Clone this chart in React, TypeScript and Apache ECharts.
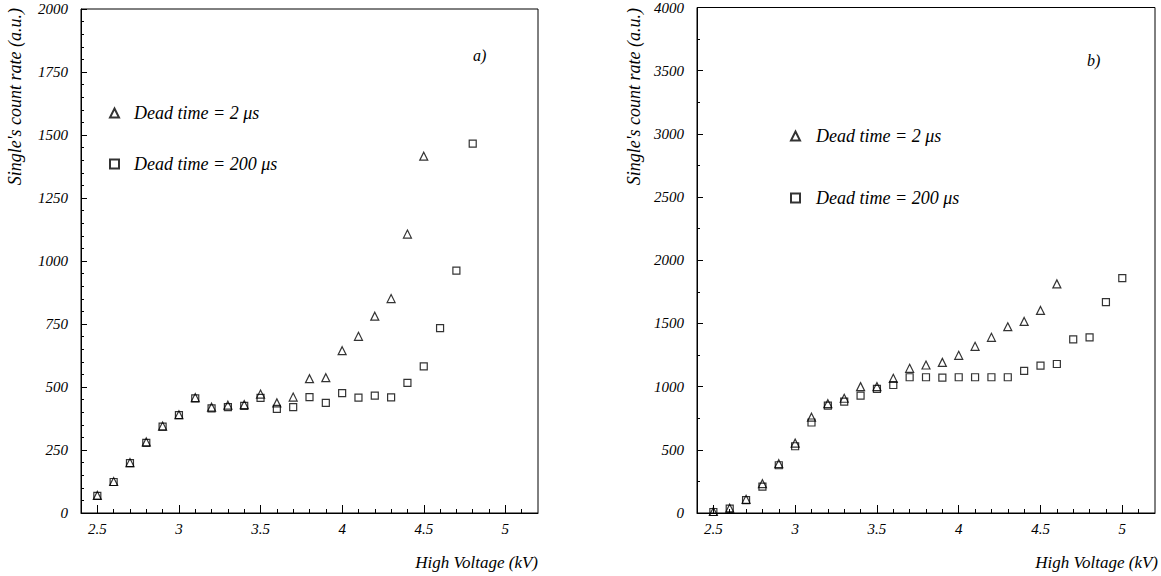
import React, { useEffect, useRef } from "react";
import * as echarts from "echarts";

// ---- data ----
const nameTri = "Dead time = 2 \u03bcs";
const nameSq = "Dead time = 200 \u03bcs";

// panel a)
const voltA2 = [2.5, 2.6, 2.7, 2.8, 2.9, 3.0, 3.1, 3.2, 3.3, 3.4, 3.5, 3.6, 3.7, 3.8, 3.9, 4.0, 4.1, 4.2, 4.3, 4.4, 4.5];
const rateA2 = [70, 125, 200, 282, 345, 390, 458, 420, 428, 430, 472, 437, 460, 533, 537, 644, 701, 781, 851, 1107, 1416];
const voltA200 = [2.5, 2.6, 2.7, 2.8, 2.9, 3.0, 3.1, 3.2, 3.3, 3.4, 3.5, 3.6, 3.7, 3.8, 3.9, 4.0, 4.1, 4.2, 4.3, 4.4, 4.5, 4.6, 4.7, 4.8];
const rateA200 = [68, 123, 198, 278, 343, 388, 455, 415, 420, 425, 457, 413, 420, 460, 437, 476, 458, 466, 459, 516, 582, 734, 962, 1466];

// panel b)
const voltB2 = [2.5, 2.6, 2.7, 2.8, 2.9, 3.0, 3.1, 3.2, 3.3, 3.4, 3.5, 3.6, 3.7, 3.8, 3.9, 4.0, 4.1, 4.2, 4.3, 4.4, 4.5, 4.6];
const rateB2 = [12, 38, 108, 232, 390, 553, 758, 865, 908, 1000, 1000, 1066, 1145, 1171, 1192, 1248, 1319, 1390, 1474, 1516, 1603, 1813];
const voltB200 = [2.5, 2.6, 2.7, 2.8, 2.9, 3.0, 3.1, 3.2, 3.3, 3.4, 3.5, 3.6, 3.7, 3.8, 3.9, 4.0, 4.1, 4.2, 4.3, 4.4, 4.5, 4.6, 4.7, 4.8, 4.9, 5.0];
const rateB200 = [8, 35, 102, 208, 378, 528, 716, 850, 882, 929, 982, 1013, 1074, 1074, 1071, 1074, 1074, 1074, 1074, 1124, 1166, 1179, 1374, 1390, 1669, 1858];

// ticks
const xMajorTicks = [2.5, 3, 3.5, 4, 4.5, 5];
const xMinorTicks = [2.5, 2.6, 2.7, 2.8, 2.9, 3.0, 3.1, 3.2, 3.3, 3.4, 3.5, 3.6, 3.7, 3.8, 3.9, 4.0, 4.1, 4.2, 4.3, 4.4, 4.5, 4.6, 4.7, 4.8, 4.9, 5.0, 5.1];
const xRange = [2.4, 5.2];
const yRangeA = [0, 2000];
const yStepA = 250;
const yRangeB = [0, 4000];
const yStepB = 500;

const xTitle = "High Voltage (kV)";
const yTitle = "Single's count rate (a.u.)";
const panelTags = ["a)", "b)"];

const FONT = "'Liberation Serif', 'Times New Roman', serif";
const txt = { fontFamily: FONT, fontStyle: "italic" as const, color: "#000" };

function pairs(xs: number[], ys: number[]) {
  return xs.map((x, i) => [x, ys[i]]);
}

function xAxesFor(gridIndex: number) {
  return [
    {
      gridIndex,
      type: "value",
      position: "bottom",
      min: xRange[0],
      max: xRange[1],
      axisLine: { show: true, onZero: false, lineStyle: { color: "#000", width: 1 } },
      axisTick: { show: true, inside: true, length: 4, customValues: xMinorTicks, lineStyle: { color: "#000" } },
      axisLabel: { customValues: xMajorTicks, ...txt, fontSize: 15, margin: 8, formatter: (v: number) => String(v) },
      splitLine: { show: false },
    },
    {
      gridIndex,
      type: "value",
      position: "bottom",
      min: xRange[0],
      max: xRange[1],
      axisLine: { show: false, onZero: false },
      axisTick: { show: true, inside: true, length: 8, customValues: xMajorTicks, lineStyle: { color: "#000" } },
      axisLabel: { show: false },
      splitLine: { show: false },
    },
  ];
}

function yAxisFor(gridIndex: number, range: number[], step: number, minorSplit: number) {
  return {
    gridIndex,
    type: "value",
    min: range[0],
    max: range[1],
    interval: step,
    axisLine: { show: true, onZero: false, lineStyle: { color: "#000", width: 1 } },
    axisTick: { show: true, inside: true, length: 6, lineStyle: { color: "#000" } },
    minorTick: { show: true, splitNumber: minorSplit, length: 3, lineStyle: { color: "#000" } },
    axisLabel: { ...txt, fontSize: 15, margin: 13, formatter: (v: number) => String(v) },
    splitLine: { show: false },
    minorSplitLine: { show: false },
  };
}

function scatter(name: string, data: number[][], xi: number, yi: number, tri: boolean) {
  return {
    type: "scatter",
    name,
    xAxisIndex: xi,
    yAxisIndex: yi,
    data,
    symbol: tri ? "triangle" : "rect",
    symbolSize: tri ? 8 : 7,
    itemStyle: { color: "rgba(0,0,0,0)", borderColor: "#000", borderWidth: 1.2 },
    emphasis: { disabled: true },
  };
}

export default function App() {
  const ref = useRef<HTMLDivElement>(null);
  useEffect(() => {
    if (!ref.current) return;
    const chart = echarts.init(ref.current, undefined, { renderer: "svg" });
    const legendBase = { orient: "vertical", itemWidth: 9, itemHeight: 9, data: [nameTri, nameSq], selectedMode: false };
    const titleFont = `italic 17px ${FONT}`;
    chart.setOption({
      animation: false,
      backgroundColor: "#fff",
      grid: [
        { left: 81, top: 9, width: 457, height: 504, show: true, borderColor: "#000", borderWidth: 1, backgroundColor: "transparent" },
        { left: 697, top: 7, width: 458, height: 506, show: true, borderColor: "#000", borderWidth: 1, backgroundColor: "transparent" },
      ],
      xAxis: [...xAxesFor(0), ...xAxesFor(1)],
      yAxis: [yAxisFor(0, yRangeA, yStepA, 5), yAxisFor(1, yRangeB, yStepB, 2)],
      legend: [
        {
          ...legendBase, left: 104, top: 98, itemGap: 31,
          textStyle: { ...txt, fontSize: 18, lineHeight: 20, padding: [0, 0, 0, 10] },
        },
        {
          ...legendBase, left: 785, top: 121, itemGap: 42,
          textStyle: { ...txt, fontSize: 18, lineHeight: 20, padding: [0, 0, 0, 11] },
        },
      ],
      series: [
        scatter(nameTri, pairs(voltA2, rateA2), 0, 0, true),
        scatter(nameSq, pairs(voltA200, rateA200), 0, 0, false),
        scatter(nameTri, pairs(voltB2, rateB2), 2, 1, true),
        scatter(nameSq, pairs(voltB200, rateB200), 2, 1, false),
      ],
      graphic: [
        { type: "text", x: 15, y: 8, rotation: Math.PI / 2, style: { text: yTitle, font: `italic 18px ${FONT}`, fill: "#000", align: "right", verticalAlign: "middle" } },
        { type: "text", x: 634, y: 8, rotation: Math.PI / 2, style: { text: yTitle, font: `italic 18px ${FONT}`, fill: "#000", align: "right", verticalAlign: "middle" } },
        { type: "text", x: 538, y: 562, style: { text: xTitle, font: titleFont, fill: "#000", align: "right", verticalAlign: "middle" } },
        { type: "text", x: 1158, y: 562, style: { text: xTitle, font: titleFont, fill: "#000", align: "right", verticalAlign: "middle" } },
        { type: "text", x: 473, y: 55, style: { text: panelTags[0], font: `italic 16px ${FONT}`, fill: "#000", align: "left", verticalAlign: "middle" } },
        { type: "text", x: 1087, y: 60, style: { text: panelTags[1], font: `italic 16px ${FONT}`, fill: "#000", align: "left", verticalAlign: "middle" } },
      ],
    });
    return () => chart.dispose();
  }, []);
  return <div ref={ref} style={{ position: "absolute", left: 0, top: 0, width: 1161, height: 576 }} />;
}
